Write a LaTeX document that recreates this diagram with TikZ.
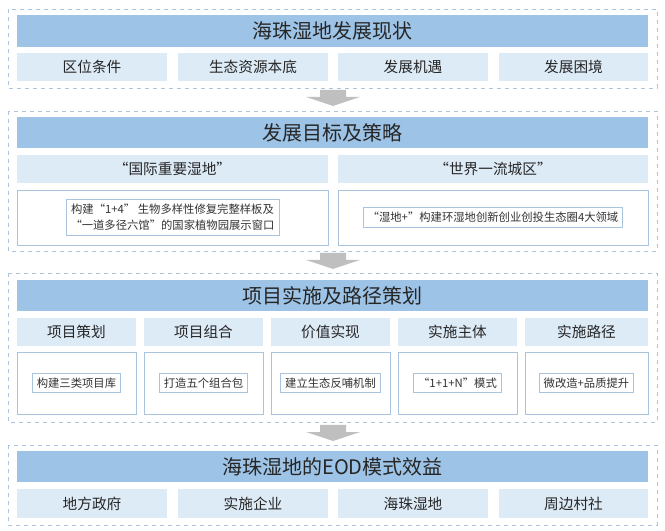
\documentclass[tikz,border=0pt]{standalone}
\usepackage{fontspec}
\setmainfont{Noto Sans CJK SC}
\begin{document}
\begin{tikzpicture}[x=0.75pt,y=-0.75pt,
 outer/.style={draw=black!30!blue!30!gray!60,dashed,line width=0.6pt},
 ttl/.style={fill=tb,draw=none,font=\fontsize{15}{18}\selectfont,text=black!85},
 sub/.style={fill=sb,draw=none,font=\fontsize{11}{13}\selectfont,text=black!85},
 wbox/.style={fill=white,draw=bd,line width=0.6pt,font=\fontsize{8.5}{12}\selectfont,text=black!80,align=center},
 arr/.style={fill=black!25,draw=none}]
\definecolor{tb}{HTML}{9DC3E6}\definecolor{sb}{HTML}{DDEBF7}\definecolor{bd}{HTML}{A9C4DC}
\useasboundingbox (0,0) rectangle (665,531);
\def\bx#1#2#3#4#5#6#7{\path[#6] (#2,#3) rectangle (#4,#5) node[midway,#6] (#1) {#7};}
% section 1
\draw[outer,draw=bd] (8,9) rectangle (657,88);
\bx{t1}{17}{15}{648}{47}{ttl}{海珠湿地发展现状}
\bx{a1}{17}{53}{167}{81}{sub}{区位条件}
\bx{a2}{178}{53}{328}{81}{sub}{生态资源本底}
\bx{a3}{338}{53}{488}{81}{sub}{发展机遇}
\bx{a4}{499}{53}{648}{81}{sub}{发展困境}
% arrows
\foreach \y in {90,253,425}{\fill[arr] (320,\y) -- (346,\y) -- (346,\y+7) -- (360,\y+7) -- (333,\y+16) -- (306,\y+7) -- (320,\y+7) -- cycle;}
% section 2
\draw[outer,draw=bd] (8,111) rectangle (657,251);
\bx{t2}{17}{117}{648}{148}{ttl}{发展目标及策略}
\bx{b1}{17}{155}{328}{183}{sub}{“国际重要湿地”}
\bx{b2}{338}{155}{648}{183}{sub}{“世界一流城区”}
\bx{c1}{17}{190}{328}{245}{wbox}{构建“1+4”\ 生物多样性修复完整样板及\\“一道多径六馆”的国家植物园展示窗口}
\bx{c2}{338}{190}{648}{245}{wbox}{“湿地+”构建环湿地创新创业创投生态圈4大领域}
% section 3
\draw[outer,draw=bd] (8,273) rectangle (657,422);
\bx{t3}{17}{280}{648}{311}{ttl}{项目实施及路径策划}
\bx{d1}{17}{318}{136}{346}{sub}{项目策划}
\bx{d2}{144}{318}{263}{346}{sub}{项目组合}
\bx{d3}{271}{318}{390}{346}{sub}{价值实现}
\bx{d4}{398}{318}{517}{346}{sub}{实施主体}
\bx{d5}{525}{318}{648}{346}{sub}{实施路径}
\bx{e1}{17}{352}{136}{414}{wbox}{构建三类项目库}
\bx{e2}{144}{352}{263}{414}{wbox}{打造五个组合包}
\bx{e3}{271}{352}{390}{414}{wbox}{建立生态反哺机制}
\bx{e4}{398}{352}{517}{414}{wbox}{“1+1+N”模式}
\bx{e5}{525}{352}{648}{414}{wbox}{微改造+品质提升}
% section 4
\draw[outer,draw=bd] (8,445) rectangle (657,525);
\bx{t4}{17}{451}{648}{482}{ttl}{海珠湿地的EOD模式效益}
\bx{f1}{17}{489}{167}{518}{sub}{地方政府}
\bx{f2}{178}{489}{328}{518}{sub}{实施企业}
\bx{f3}{338}{489}{488}{518}{sub}{海珠湿地}
\bx{f4}{499}{489}{648}{518}{sub}{周边村社}
\end{tikzpicture}
\end{document}
